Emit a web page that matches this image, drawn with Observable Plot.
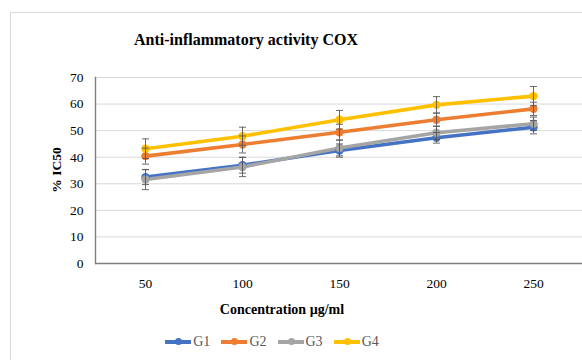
<!DOCTYPE html>
<html>
<head>
<meta charset="utf-8">
<script src="https://cdn.jsdelivr.net/npm/d3@7"></script>
<script src="https://cdn.jsdelivr.net/npm/@observablehq/plot@0.6"></script>
<style>
  html, body { margin: 0; padding: 0; background: #fff; }
  #wrap { position: relative; width: 582px; height: 360px; overflow: hidden; font-family: "Liberation Serif", "Times New Roman", serif; }
  #border { position: absolute; left: 10px; top: 12px; width: 600px; height: 400px; border: 1px solid #d9d9d9; box-sizing: border-box; }
  #title { position: absolute; left: 0; width: 492px; top: 31px; text-align: center; font-weight: bold; font-size: 16px; color: #000; }
  #ylab { position: absolute; left: 57px; top: 170px; transform: translate(-50%, -50%) rotate(-90deg); font-weight: bold; font-size: 13.5px; white-space: nowrap; color: #000; }
  #xlab { position: absolute; left: 0; width: 564px; top: 302px; text-align: center; font-weight: bold; font-size: 14px; color: #000; }
  #legend { position: absolute; left: 0; width: 544px; top: 334px; display: flex; justify-content: center; gap: 11px; font-size: 14px; color: #595959; }
  .item { display: flex; align-items: center; }
  .sw { position: relative; width: 26px; height: 3.5px; margin-right: 2px; }
  .sw::after { content: ""; position: absolute; left: 10px; top: -2px; width: 7px; height: 7px; border-radius: 50%; background: inherit; }
  #chart svg { position: absolute; left: 0; top: 0; }
</style>
</head>
<body>
<div id="wrap">
  <div id="border"></div>
  <div id="chart"></div>
  <div id="title">Anti-inflammatory activity COX</div>
  <div id="ylab">% IC50</div>
  <div id="xlab">Concentration µg/ml</div>
  <div id="legend"></div>
</div>
<script>
const concentrations = ["50", "100", "150", "200", "250"];
const groups = ["G1", "G2", "G3", "G4"];
const colors = ["#4472C4", "#ED7D31", "#A5A5A5", "#FFC000"];
const G1 = [32.5, 37.0, 42.5, 47.3, 51.3];
const G2 = [40.4, 44.8, 49.4, 54.1, 58.2];
const G3 = [31.6, 36.3, 43.5, 49.2, 52.6];
const G4 = [43.2, 47.9, 54.1, 59.7, 63.0];
const E1 = [2.8, 3.0, 2.5, 2.0, 2.5];
const E2 = [3.0, 3.2, 3.0, 2.5, 2.5];
const E3 = [3.8, 3.6, 3.0, 2.5, 2.5];
const E4 = [3.7, 3.4, 3.5, 3.1, 3.6];
const yTicks = [0, 10, 20, 30, 40, 50, 60, 70];

const series = [G1, G2, G3, G4];
const errs = [E1, E2, E3, E4];
const data = [];
groups.forEach((g, gi) => {
  concentrations.forEach((c, ci) => {
    data.push({group: g, conc: c, value: series[gi][ci], err: errs[gi][ci]});
  });
});

const capSymbol = {
  draw(context, size) {
    const w = Math.sqrt(size / Math.PI);
    context.moveTo(-w, 0);
    context.lineTo(w, 0);
  }
};

const font = "Liberation Serif, Times New Roman, serif";
const plot = Plot.plot({
  width: 582,
  height: 360,
  marginTop: 77,
  marginBottom: 97,
  marginLeft: 95,
  marginRight: 0,
  style: {fontFamily: font, fontSize: "13.5px", color: "#000", background: "transparent"},
  x: {type: "point", domain: concentrations, padding: 0.485, label: null},
  y: {domain: [0, 70], label: null},
  color: {domain: groups, range: colors},
  marks: [
    Plot.gridY(yTicks.filter(d => d > 0), {stroke: "#d9d9d9", strokeOpacity: 1, strokeWidth: 1}),
    Plot.axisY(yTicks, {tickSize: 0, tickPadding: 12, fontSize: 13.5, fill: "#000"}),
    Plot.axisX(concentrations, {tickSize: 0, tickPadding: 15, fontSize: 13.5, fill: "#000"}),
    Plot.frame({anchor: "left", stroke: "#7f7f7f", strokeWidth: 1.4}),
    Plot.ruleY([0], {stroke: "#7f7f7f", strokeWidth: 1.6}),
    ...groups.map(g => Plot.line(data.filter(d => d.group === g), {x: "conc", y: "value", stroke: "group", strokeWidth: 3.6})),
    ...groups.map(g => Plot.dot(data.filter(d => d.group === g), {x: "conc", y: "value", fill: "group", r: 4.2})),
    Plot.ruleX(data, {x: "conc", y1: d => d.value - d.err, y2: d => d.value + d.err, stroke: "#595959", strokeWidth: 0.9}),
    Plot.dot(data, {x: "conc", y: d => d.value + d.err, symbol: capSymbol, r: 3.5, stroke: "#595959", strokeWidth: 0.9, fill: "none"}),
    Plot.dot(data, {x: "conc", y: d => d.value - d.err, symbol: capSymbol, r: 3.5, stroke: "#595959", strokeWidth: 0.9, fill: "none"})
  ]
});
document.getElementById("chart").appendChild(plot);

const legend = document.getElementById("legend");
groups.forEach((g, i) => {
  const item = document.createElement("div");
  item.className = "item";
  const sw = document.createElement("span");
  sw.className = "sw";
  sw.style.background = colors[i];
  const t = document.createElement("span");
  t.textContent = g;
  item.appendChild(sw);
  item.appendChild(t);
  legend.appendChild(item);
});
</script>
</body>
</html>
